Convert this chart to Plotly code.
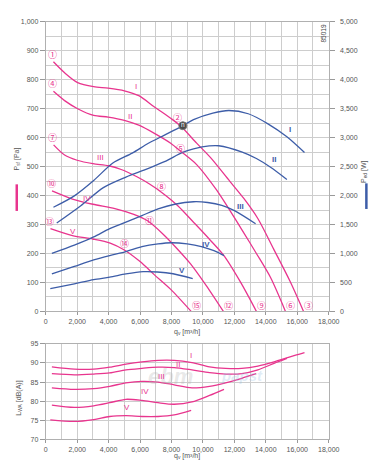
import numpy as np
import plotly.graph_objects as go

# ---------------- data ----------------
roman = ["I", "II", "III", "IV", "V"]

# static pressure curves P_sf [Pa] vs q_v [m3/h]
q_p1 = [490, 1200, 2030, 3050, 3970, 5000, 5920, 6940, 7970, 8580, 9600, 10500, 11700, 12600, 13500, 14500, 15540, 16400]
p1 = [862, 824, 790, 776, 771, 762, 745, 705, 666, 640, 581, 530, 450, 390, 320, 215, 104, 0]
q_p2 = [490, 1200, 2030, 3050, 3970, 5000, 5920, 6940, 7970, 8580, 9600, 10830, 11650, 12500, 13400, 14300, 15250]
p2 = [760, 728, 700, 677, 671, 660, 643, 614, 580, 553, 507, 422, 354, 280, 200, 117, 0]
q_p3 = [500, 1200, 2000, 3000, 4000, 4800, 5800, 6600, 7400, 8400, 9400, 10400, 11300, 12400, 13400]
p3 = [575, 540, 522, 510, 503, 490, 465, 440, 410, 365, 308, 250, 195, 100, 0]
q_p4 = [400, 1700, 3000, 4400, 5600, 6500, 7500, 8300, 9200, 10200, 11300]
p4 = [416, 388, 370, 355, 335, 312, 265, 220, 165, 90, 0]
q_p5 = [300, 1700, 3000, 4100, 5000, 6000, 6900, 7950, 9250]
p5 = [286, 262, 250, 236, 212, 172, 127, 76, 0]

# power input curves P_ed [W]
q_w1 = [490, 1820, 3050, 4270, 5500, 6530, 7555, 8580, 9400, 10630, 11650, 12880, 14110, 15340, 16460]
w1 = [1798, 1995, 2260, 2563, 2733, 2903, 3044, 3185, 3311, 3424, 3469, 3413, 3243, 3015, 2743]
q_w2 = [700, 2230, 3665, 5100, 6330, 7555, 8700, 9400, 10400, 11000, 12500, 13400, 14300, 15340]
w2 = [1526, 1825, 2138, 2320, 2449, 2585, 2745, 2805, 2857, 2860, 2750, 2640, 2490, 2279]
q_w3 = [390, 1820, 3050, 4070, 5100, 6120, 7145, 8200, 9400, 10300, 11200, 12000, 13350]
w3 = [1003, 1145, 1287, 1429, 1542, 1655, 1769, 1850, 1893, 1880, 1830, 1740, 1514]
q_w4 = [390, 1820, 3050, 4070, 5100, 6120, 7145, 8000, 9000, 9900, 10700, 11340]
w4 = [646, 777, 889, 964, 1032, 1117, 1165, 1185, 1165, 1120, 1050, 964]
q_w5 = [290, 1820, 3050, 4070, 5100, 6200, 7100, 8100, 9350]
w5 = [391, 476, 550, 590, 646, 685, 680, 650, 567]

# sound power L_WA [dB(A)]
q_s1 = [390, 1820, 3050, 4070, 5100, 6120, 7145, 8170, 9300, 10420, 11440, 12470, 13495, 14520, 15540, 16460]
s1 = [89.0, 88.4, 88.4, 88.9, 89.7, 90.3, 90.7, 90.7, 90.1, 89.0, 88.6, 88.6, 89.2, 90.3, 91.6, 92.7]
q_s2 = [390, 1820, 3050, 4070, 5100, 6120, 7145, 8170, 9300, 10420, 11440, 12470, 13495, 14520, 15340]
s2 = [87.2, 86.9, 87.1, 87.4, 88.2, 88.6, 88.9, 88.8, 88.2, 87.5, 87.1, 87.2, 88.2, 89.9, 91.2]
q_s3 = [390, 1820, 3050, 4070, 5100, 6120, 7145, 8170, 9300, 10420, 11440, 12470, 13390]
s3 = [83.5, 83.1, 83.3, 83.9, 84.8, 85.2, 85.0, 84.3, 83.5, 83.9, 84.8, 86.0, 87.2]
q_s4 = [390, 1820, 3050, 4070, 5100, 6120, 7145, 8170, 9300, 10420, 11340]
s4 = [79.0, 78.4, 78.8, 79.6, 80.5, 80.2, 79.6, 79.2, 79.8, 81.5, 83.1]
q_s5 = [290, 1820, 3050, 4070, 5100, 6120, 7145, 8170, 9250]
s5 = [75.1, 74.7, 75.2, 76.0, 76.2, 76.0, 76.0, 76.4, 77.6]

start_marks = ["①", "④", "⑦", "⑩", "⑬"]
mid_marks = ["②", "⑤", "⑧", "⑪", "⑭"]
end_marks = ["③", "⑥", "⑨", "⑫", "⑮"]
mid_q = [8580, 8580, 7350, 6630, 5000]
nominal_q = 8720

# label placement (q position of roman labels)
p_label_q = [5770, 5340, 3460, 2640, 1720]
w_label_q = [15540, 14510, 12365, 10215, 8680]
s_label_q = [9210, 8415, 7350, 6330, 5200]

# ---------------- style ----------------
PINK = "#e8358e"
BLUE = "#3d5da8"
GRID = "#cdcdcd"
TXT = "#555555"
FONT = "Liberation Sans, Arial, sans-serif"
CJK = "Noto Sans CJK JP, DejaVu Sans"
W, H = 380, 461

def px(x):
    return x / W

def py(y):
    return 1 - y / H

P_series = [(q_p1, p1), (q_p2, p2), (q_p3, p3), (q_p4, p4), (q_p5, p5)]
W_series = [(q_w1, w1), (q_w2, w2), (q_w3, w3), (q_w4, w4), (q_w5, w5)]
S_series = [(q_s1, s1), (q_s2, s2), (q_s3, s3), (q_s4, s4), (q_s5, s5)]

fig = go.Figure()

for (q, v) in W_series:
    fig.add_trace(go.Scatter(x=q, y=v, mode="lines", xaxis="x", yaxis="y2",
                             line=dict(color=BLUE, width=1.3, shape="spline", smoothing=0.8),
                             hoverinfo="skip", showlegend=False))
for (q, v) in P_series:
    fig.add_trace(go.Scatter(x=q, y=v, mode="lines", xaxis="x", yaxis="y",
                             line=dict(color=PINK, width=1.3, shape="spline", smoothing=0.8),
                             hoverinfo="skip", showlegend=False))
for (q, v) in S_series:
    fig.add_trace(go.Scatter(x=q, y=v, mode="lines", xaxis="x2", yaxis="y3",
                             line=dict(color=PINK, width=1.3, shape="spline", smoothing=0.8),
                             hoverinfo="skip", showlegend=False))

# nominal operating point on power curve I
fig.add_trace(go.Scatter(x=[nominal_q], y=[float(np.interp(nominal_q, q_w1, w1))],
                         mode="markers+text", xaxis="x", yaxis="y2",
                         marker=dict(size=8, color="#4a4a4a", line=dict(color="#777", width=1)),
                         text=["n"], textposition="middle center",
                         textfont=dict(size=6.5, color="white", family=FONT),
                         hoverinfo="skip", showlegend=False))

ann = []
def A(x, y, text, color, xref, yref, size, xs=0, ys=0, fam=FONT, angle=0, **kw):
    ann.append(dict(x=x, y=y, text=text, xref=xref, yref=yref, showarrow=False,
                    font=dict(color=color, size=size, family=fam), xshift=xs, yshift=ys,
                    textangle=angle, xanchor="center", yanchor="middle", **kw))

# faint watermark first (drawn underneath other annotations)
A(px(166), py(370), "<b><i>ebm</i></b>", "rgba(180,180,180,0.30)", "paper", "paper", 22)
A(px(240), py(369), "<b><i>papst</i></b>", "rgba(150,190,225,0.30)", "paper", "paper", 15)

for i, (q, v) in enumerate(P_series):
    A(q[0], v[0], start_marks[i], PINK, "x", "y", 9, xs=-1, ys=7.5, fam=CJK)
    A(q[-1], v[-1], end_marks[i], PINK, "x", "y", 9, xs=5, ys=6, fam=CJK)
    A(mid_q[i], float(np.interp(mid_q[i], q, v)), mid_marks[i], PINK, "x", "y", 9,
      xs=[-3, 0, 0, 0, 0][i], ys=[8.5, 3, 6, 2, 6][i], fam=CJK)
    A(p_label_q[i], float(np.interp(p_label_q[i], q, v)), roman[i], PINK, "x", "y", 8,
      ys=[8.5, 6, 7, 4, 4.5][i])

for i, (q, v) in enumerate(W_series):
    A(w_label_q[i], float(np.interp(w_label_q[i], q, v)), "<b>" + roman[i] + "</b>", BLUE, "x", "y2", 8,
      ys=[10, 10, 8, 4, 5][i])

for i, (q, v) in enumerate(S_series):
    A(s_label_q[i], float(np.interp(s_label_q[i], q, v)), roman[i], PINK, "x2", "y3", 8,
      ys=[6.5, 3.5, 6, 9.5, 8.5][i])

# axis titles
A(px(183), py(325), "q<sub>v</sub> [m³/h]", TXT, "paper", "paper", 7)
A(px(183), py(451), "q<sub>v</sub> [m³/h]", TXT, "paper", "paper", 7)
A(px(7), py(149), "P<sub>sf</sub> [Pa]", TXT, "paper", "paper", 7, angle=-90)
A(px(366), py(162), "P<sub>ed</sub> [W]", TXT, "paper", "paper", 7, angle=-90)
A(px(9), py(392), "L<sub>WA</sub> [dB(A)]", TXT, "paper", "paper", 7, angle=-90)
A(px(325), py(22), "85019", "#444", "paper", "paper", 6.5, angle=-90)

shapes = [
    dict(type="line", xref="paper", yref="paper", x0=px(7), x1=px(7), y0=py(175), y1=py(202),
         line=dict(color=PINK, width=2.5)),
    dict(type="line", xref="paper", yref="paper", x0=px(369), x1=px(369), y0=py(174), y1=py(200),
         line=dict(color=BLUE, width=2.5)),
]

xdom = [px(37), px(330)]
tickfont = dict(size=7, color=TXT, family=FONT)
xcommon = dict(range=[0, 18000], dtick=2000, tick0=0, tickformat=",d", showgrid=True,
               gridcolor=GRID, gridwidth=1, minor=dict(dtick=1000, showgrid=True, gridcolor=GRID),
               zeroline=False, showline=True, linecolor="#b0b0b0", mirror=True,
               ticks="outside", ticklen=3, tickcolor="#999", tickfont=tickfont, domain=xdom)

fig.update_layout(
    width=W, height=H, margin=dict(l=0, r=0, t=0, b=0),
    paper_bgcolor="white", plot_bgcolor="white",
    font=dict(family=FONT),
    xaxis=dict(anchor="y", **xcommon),
    xaxis2=dict(anchor="y3", **xcommon),
    yaxis=dict(domain=[py(304), py(10)], range=[0, 1000], dtick=100, tickformat=",d",
               showgrid=True, gridcolor=GRID, minor=dict(dtick=50, showgrid=True, gridcolor=GRID),
               zeroline=False, showline=True, linecolor="#b0b0b0", mirror=True,
               ticks="outside", ticklen=5, tickcolor="#999", tickfont=tickfont, anchor="x"),
    yaxis2=dict(overlaying="y", side="right", range=[0, 5000], dtick=500, tickformat=",d",
                showgrid=False, zeroline=False, ticks="outside", ticklen=5, tickcolor="#999",
                tickfont=tickfont, anchor="x", ticklabelstandoff=4),
    yaxis3=dict(domain=[py(434), py(337)], range=[70, 95], dtick=5, showgrid=True, gridcolor=GRID,
                zeroline=False, showline=True, linecolor="#b0b0b0", mirror=True,
                ticks="outside", ticklen=5, tickcolor="#999", tickfont=tickfont, anchor="x2"),
    annotations=ann,
    shapes=shapes,
)

fig.write_html("out.html")
